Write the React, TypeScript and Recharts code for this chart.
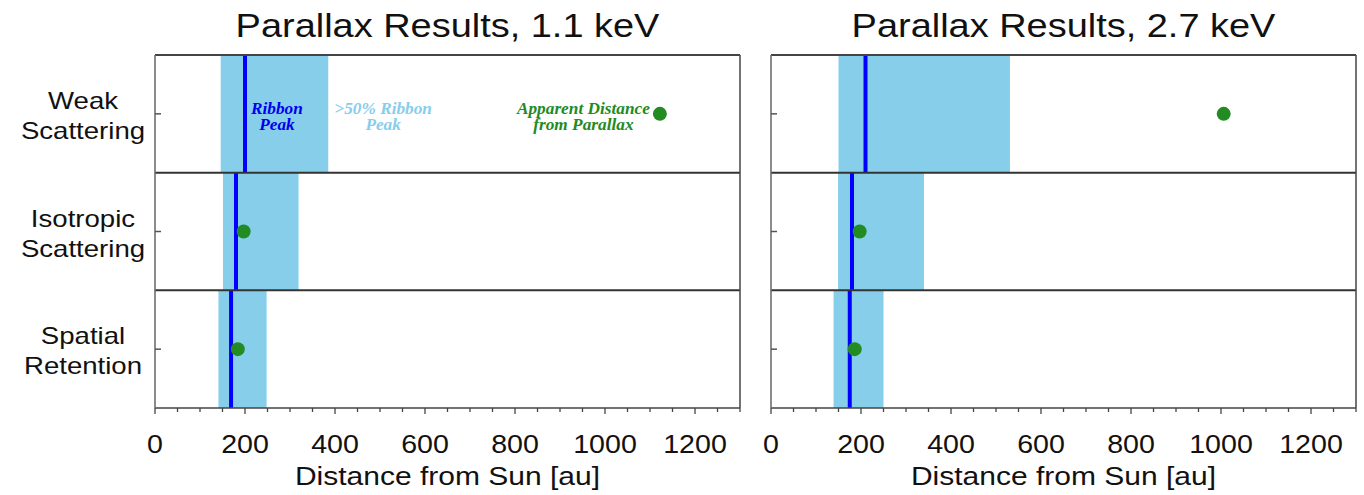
import React from "react";
import {
  ComposedChart,
  XAxis,
  YAxis,
  Scatter,
  ReferenceArea,
  ReferenceLine,
  Label,
} from "recharts";

// rows, top to bottom
const rowNames = [
  ["Weak", "Scattering"],
  ["Isotropic", "Scattering"],
  ["Spatial", "Retention"],
];
const rowCenters = [2.5, 1.5, 0.5];

const majorTicks = [0, 200, 400, 600, 800, 1000, 1200];
const minorTicks = [
  0, 50, 100, 150, 200, 250, 300, 350, 400, 450, 500, 550, 600, 650, 700, 750,
  800, 850, 900, 950, 1000, 1050, 1100, 1150, 1200, 1250, 1300,
];

// 1.1 keV
const bandLow11 = [146, 151, 141];
const bandHigh11 = [385, 319, 248];
const peak11 = [200, 180, 169];
const parallax11 = [1122, 197, 184];

// 2.7 keV
const bandLow27 = [150, 149, 139];
const bandHigh27 = [531, 340, 250];
const peak27 = [210, 180, 175];
const parallax27 = [1006, 197, 186];

// legend notes written into the top-left row
const noteLines = [
  ["Ribbon", "Peak"],
  [">50% Ribbon", "Peak"],
  ["Apparent Distance", "from Parallax"],
];
const noteX = [271, 507, 952];
const noteColors = ["#0000ee", "#87ceeb", "#228b22"];

const SANS = "'Liberation Sans', Arial, Helvetica, sans-serif";
const SERIF = "'Liberation Serif', 'Times New Roman', serif";
const FRAME = "#444";

const StretchText = ({ x, y, size, sx, children, fill = "#111" }: any) => (
  <text
    transform={`translate(${x},${y}) scale(${sx},1)`}
    textAnchor="middle"
    fontSize={size}
    fontFamily={SANS}
    fill={fill}
  >
    {children}
  </text>
);

const RowTick = (props: any) => {
  const { x, y, payload, showLabels } = props;
  const idx = rowCenters.indexOf(payload.value);
  return (
    <g>
      <line x1={x} x2={x + 6} y1={y} y2={y} stroke="#555" strokeWidth={1.5} />
      {showLabels && idx >= 0 && (
        <>
          <StretchText x={x - 72} y={y - 5} size={23} sx={1.2}>
            {rowNames[idx][0]}
          </StretchText>
          <StretchText x={x - 72} y={y + 25} size={23} sx={1.2}>
            {rowNames[idx][1]}
          </StretchText>
        </>
      )}
    </g>
  );
};

const DistTick = (props: any) => {
  const { x, y, payload } = props;
  const major = majorTicks.includes(payload.value);
  return (
    <g>
      <line
        x1={x}
        x2={x}
        y1={y}
        y2={y + (major ? 6 : 4)}
        stroke={FRAME}
        strokeWidth={1.3}
      />
      {major && (
        <StretchText x={x} y={y + 45} size={26} sx={1.1}>
          {payload.value}
        </StretchText>
      )}
    </g>
  );
};

const Dot = (props: any) => (
  <circle cx={props.cx} cy={props.cy} r={7} fill="#228b22" />
);

const Note = (props: any) => {
  const { cx, cy, payload } = props;
  return (
    <g transform={`translate(${cx},${cy}) scale(1.08,1)`}>
      <text
        textAnchor="middle"
        fontFamily={SERIF}
        fontStyle="italic"
        fontWeight="bold"
        fontSize={16}
        fill={payload.color}
      >
        <tspan x={0} y={0}>
          {payload.lines[0]}
        </tspan>
        <tspan x={0} y={16}>
          {payload.lines[1]}
        </tspan>
      </text>
    </g>
  );
};

interface PanelProps {
  title: string;
  low: number[];
  high: number[];
  peak: number[];
  parallax: number[];
  width: number;
  yAxisWidth: number;
  marginRight: number;
  showLabels: boolean;
  notes: boolean;
}

const Panel: React.FC<PanelProps> = ({
  title,
  low,
  high,
  peak,
  parallax,
  width,
  yAxisWidth,
  marginRight,
  showLabels,
  notes,
}) => {
  const dots = parallax.map((v, i) => ({ x: v, y: rowCenters[i] }));
  const noteData = noteLines.map((lines, i) => ({
    x: noteX[i],
    y: rowCenters[0],
    lines,
    color: noteColors[i],
  }));
  const plotCenter = yAxisWidth + (width - yAxisWidth - marginRight) / 2;

  return (
    <div style={{ position: "relative", width, height: 495 }}>
      <svg
        width={width}
        height={50}
        style={{ position: "absolute", left: 0, top: 0 }}
      >
        <StretchText x={plotCenter} y={37} size={33} sx={1.15}>
          {title}
        </StretchText>
      </svg>
      <ComposedChart
        width={width}
        height={495}
        margin={{ top: 55, right: marginRight, bottom: 0, left: 0 }}
      >
        <XAxis
          dataKey="x"
          type="number"
          domain={[0, 1300]}
          allowDataOverflow
          ticks={minorTicks}
          interval={0}
          tickSize={0}
          tickMargin={0}
          axisLine={false}
          tickLine={false}
          tick={<DistTick />}
          height={87}
        >
          <Label
            content={(p: any) => (
              <StretchText
                x={p.viewBox.x + p.viewBox.width / 2}
                y={p.viewBox.y + 77}
                size={25}
                sx={1.2}
              >
                Distance from Sun [au]
              </StretchText>
            )}
          />
        </XAxis>
        <YAxis
          dataKey="y"
          type="number"
          domain={[0, 3]}
          ticks={rowCenters}
          interval={0}
          width={yAxisWidth}
          tickSize={0}
          tickMargin={0}
          axisLine={false}
          tickLine={false}
          tick={<RowTick showLabels={showLabels} />}
        />
        {low.map((lo, i) => (
          <ReferenceArea
            key={`band-${i}`}
            x1={lo}
            x2={high[i]}
            y1={rowCenters[i] - 0.5}
            y2={rowCenters[i] + 0.5}
            fill="#87ceeb"
            fillOpacity={1}
            stroke="none"
          />
        ))}
        {peak.map((p, i) => (
          <ReferenceLine
            key={`peak-${i}`}
            segment={[
              { x: p, y: rowCenters[i] - 0.5 },
              { x: p, y: rowCenters[i] + 0.5 },
            ]}
            stroke="#0000ff"
            strokeWidth={4}
          />
        ))}
        <ReferenceLine y={3} stroke={FRAME} strokeWidth={2} />
        <ReferenceLine y={2} stroke="#333" strokeWidth={2} />
        <ReferenceLine y={1} stroke="#333" strokeWidth={2} />
        <ReferenceLine y={0} stroke={FRAME} strokeWidth={1.5} />
        <ReferenceLine x={0} stroke="#666" strokeWidth={1.5} />
        <ReferenceLine x={1300} stroke={FRAME} strokeWidth={1.5} />
        <Scatter data={dots} shape={<Dot />} isAnimationActive={false} />
        {notes && (
          <Scatter data={noteData} shape={<Note />} isAnimationActive={false} />
        )}
      </ComposedChart>
    </div>
  );
};

export default function App() {
  return (
    <div
      style={{
        position: "absolute",
        left: 0,
        top: 0,
        width: 1364,
        height: 495,
        background: "#fff",
        display: "flex",
      }}
    >
      <Panel
        title="Parallax Results, 1.1 keV"
        low={bandLow11}
        high={bandHigh11}
        peak={peak11}
        parallax={parallax11}
        width={760}
        yAxisWidth={155}
        marginRight={20}
        showLabels
        notes
      />
      <Panel
        title="Parallax Results, 2.7 keV"
        low={bandLow27}
        high={bandHigh27}
        peak={peak27}
        parallax={parallax27}
        width={604}
        yAxisWidth={11}
        marginRight={8}
        showLabels={false}
        notes={false}
      />
    </div>
  );
}
